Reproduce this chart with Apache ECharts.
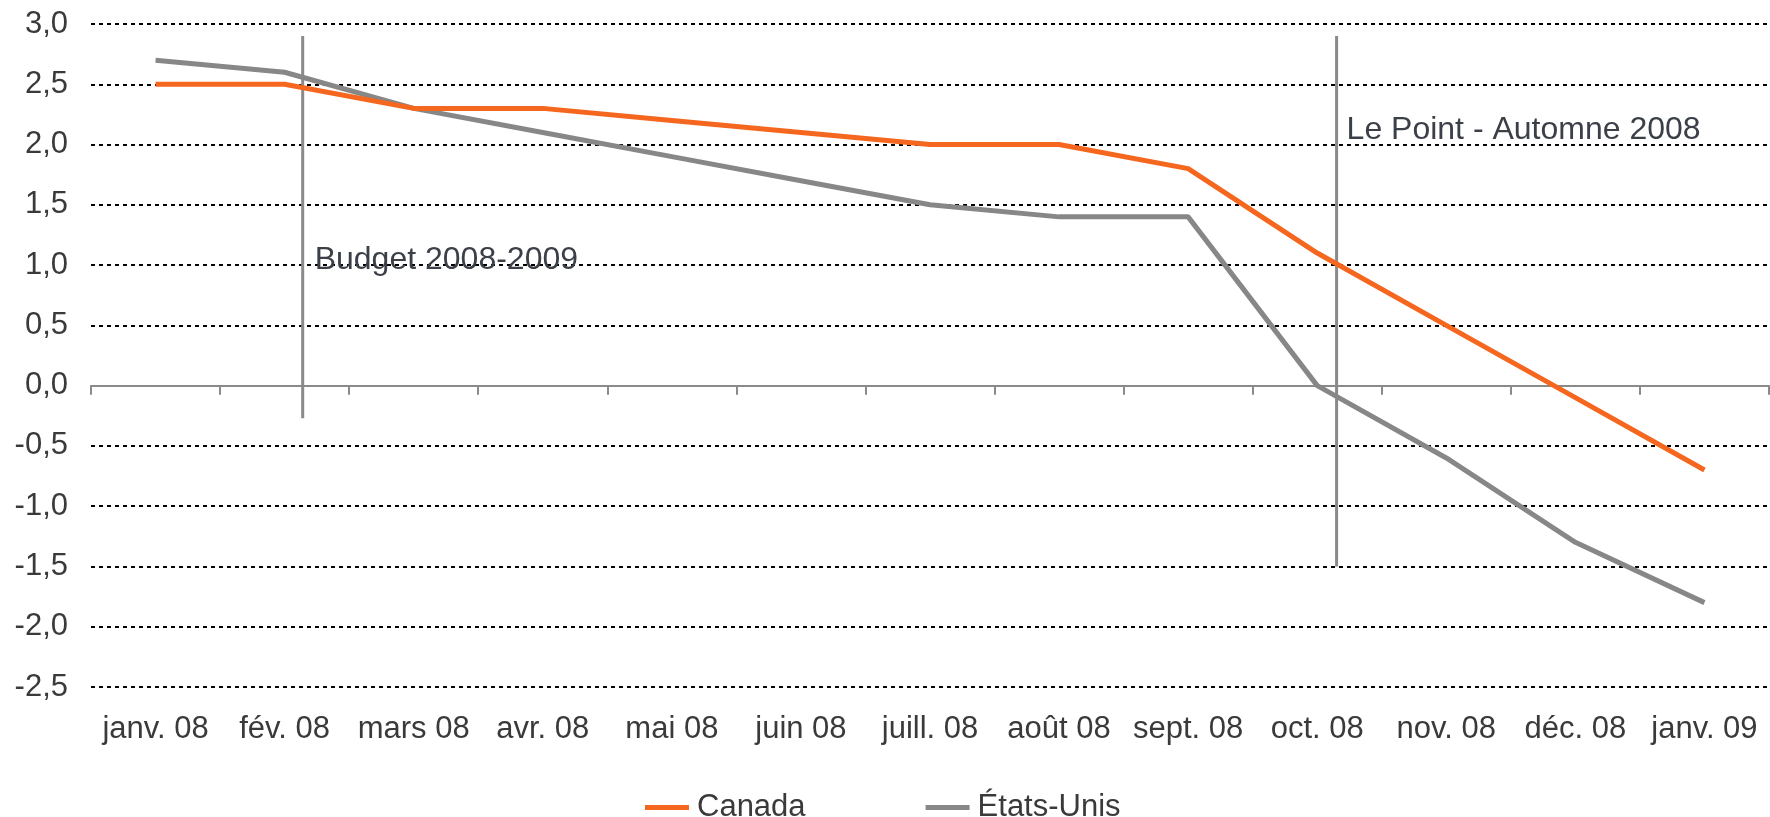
<!DOCTYPE html>
<html><head><meta charset="utf-8">
<script src="https://cdn.jsdelivr.net/npm/echarts@6/dist/echarts.min.js"></script>
<style>html,body{margin:0;padding:0;background:#fff}#c{width:1770px;height:817px}</style>
</head><body><div id="c"></div>
<script>
const categories = ['janv. 08','fév. 08','mars 08','avr. 08','mai 08','juin 08','juill. 08','août 08','sept. 08','oct. 08','nov. 08','déc. 08','janv. 09'];
const canada = [2.5, 2.5, 2.3, 2.3, 2.2, 2.1, 2.0, 2.0, 1.8, 1.1, 0.5, -0.1, -0.7];
const etatsUnis = [2.7, 2.6, 2.3, 2.1, 1.9, 1.7, 1.5, 1.4, 1.4, 0.0, -0.6, -1.3, -1.8];
// event markers: position on the month scale (index) and vertical extent
const budgetLine = [[1.14, -0.27], [1.14, 2.9]];
const pointLine = [[9.15, -1.5], [9.15, 2.9]];
const budgetLabel = [[1.14, 1.04]];
const pointLabel = [[9.15, 2.12]];

const chart = echarts.init(document.getElementById('c'));
const font = 'Liberation Sans, Arial, sans-serif';
const annLabel = (text, dist) => ({show: true, position: 'right', distance: dist, formatter: text,
  color: '#3b3f47', opacity: 1, fontSize: 32, fontFamily: font});
chart.setOption({
  animation: false,
  grid: {left: 91, right: 1, top: 24, bottom: 130},
  xAxis: [
    {type: 'category', data: categories, position: 'bottom', boundaryGap: true,
     axisLine: {show: true, onZero: true, lineStyle: {color: '#8a8a8a', width: 2}},
     axisTick: {show: true, length: 9, interval: 0, lineStyle: {color: '#8a8a8a', width: 2}},
     axisLabel: {show: false}, splitLine: {show: false}},
    {type: 'category', data: categories, position: 'bottom', boundaryGap: true,
     axisLine: {show: false, onZero: false}, axisTick: {show: false},
     axisLabel: {show: true, interval: 0, color: '#3a3a3a', fontSize: 31, fontFamily: font, margin: 27},
     splitLine: {show: false}},
    {type: 'value', min: -0.5, max: 12.5, position: 'top', show: false}
  ],
  yAxis: {
    type: 'value', min: -2.5, max: 3, interval: 0.5,
    axisLine: {show: false}, axisTick: {show: false},
    axisLabel: {color: '#3a3a3a', fontSize: 31, fontFamily: font, margin: 23,
      formatter: v => v.toFixed(1).replace('.', ',')},
    splitLine: {show: true, lineStyle: {color: '#000', width: 2, type: [4, 4]}}
  },
  legend: {
    left: 640, top: 787, itemWidth: 44, itemHeight: 5, itemGap: 120, icon: 'rect',
    textStyle: {color: '#3a3a3a', fontSize: 31, fontFamily: font, padding: [0, 0, 0, 3]},
    data: ['Canada', 'États-Unis']
  },
  series: [
    {name: 'budget', type: 'line', xAxisIndex: 2, data: budgetLine, symbol: 'none',
     lineStyle: {color: '#8a8a8a', width: 3}, silent: true, z: 1},
    {name: 'point', type: 'line', xAxisIndex: 2, data: pointLine, symbol: 'none',
     lineStyle: {color: '#8a8a8a', width: 3}, silent: true, z: 1},
    {name: 'Canada', type: 'line', data: canada, symbol: 'none',
     itemStyle: {color: '#F5661F'}, lineStyle: {color: '#F5661F', width: 5}, z: 3},
    {name: 'États-Unis', type: 'line', data: etatsUnis, symbol: 'none',
     itemStyle: {color: '#878787'}, lineStyle: {color: '#878787', width: 5}, z: 2},
    {name: 'lbl1', type: 'scatter', xAxisIndex: 2, data: budgetLabel, symbolSize: 0,
     itemStyle: {opacity: 1}, label: annLabel('Budget 2008-2009', 12), silent: true, z: 4},
    {name: 'lbl2', type: 'scatter', xAxisIndex: 2, data: pointLabel, symbolSize: 0,
     itemStyle: {opacity: 1}, label: annLabel('Le Point - Automne 2008', 10), silent: true, z: 4}
  ]
});
</script></body></html>
